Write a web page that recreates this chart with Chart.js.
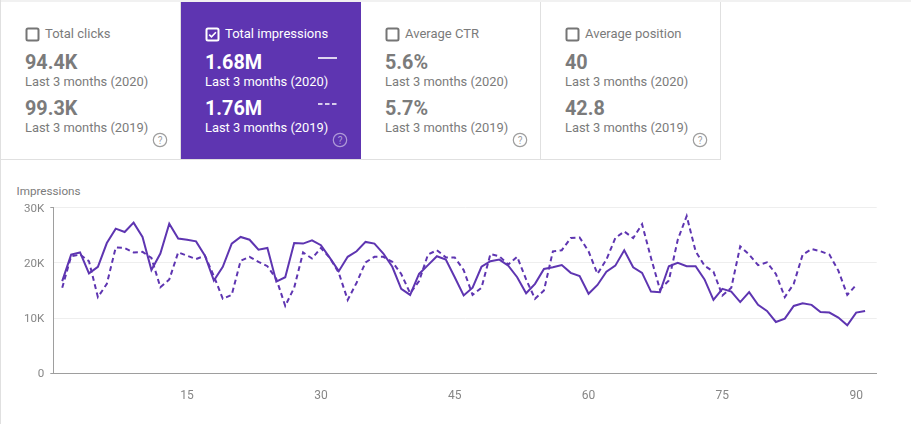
<!DOCTYPE html>
<html>
<head>
<meta charset="utf-8">
<title>Impressions</title>
<script src="https://cdn.jsdelivr.net/npm/chart.js@4"></script>
<style>
    html, body { margin: 0; padding: 0; background: #fff; }
    body { width: 911px; height: 424px; position: relative; overflow: hidden; font-family: Roboto, sans-serif; color: #7b7b7b; }
    #topline { position: absolute; left: 0; top: 0; width: 911px; height: 2px; background: #f1f1f1; }
    #leftline { position: absolute; left: 0; top: 0; width: 1px; height: 424px; background: #e0e0e0; }
    #bottomline { position: absolute; left: 1px; top: 159px; width: 720px; height: 1px; background: #e0e0e0; }
    .card { position: absolute; top: 2px; width: 180px; height: 158px; box-sizing: border-box; border-right: 1px solid #e0e0e0; }
    .card.active { background: #5e35b1; color: #fff; border-right: none; }
    .card div, .card svg { position: absolute; white-space: nowrap; }
    .check { left: 24px; top: 25px; }
    .title { left: 44px; top: 24px; font-size: 13px; line-height: 15px; }
    .big { left: 24px; font-size: 19.8px; line-height: 24px; font-weight: 700; }
    .sub { left: 24px; font-size: 12.9px; line-height: 15px; }
    .help { left: 149.5px; top: 128.5px; }
    #axisTitle { position: absolute; left: 16.5px; top: 184.5px; font-size: 11.7px; line-height: 13px; color: #7b7b7b; }
    #chart { position: absolute; left: 0; top: 170px; }
</style>
</head>
<body>
<div id="topline"></div>
<div id="leftline"></div>
<div id="cards"></div>
<div id="bottomline"></div>
<div id="axisTitle">Impressions</div>
<canvas id="chart" width="911" height="254" style="width:911px;height:254px"></canvas>

<script>
const cardTitles = ['Total clicks', 'Total impressions', 'Average CTR', 'Average position'];
const values2020 = ['94.4K', '1.68M', '5.6%', '40'];
const values2019 = ['99.3K', '1.76M', '5.7%', '42.8'];
const label2020 = 'Last 3 months (2020)';
const label2019 = 'Last 3 months (2019)';

const yTicks = [0, 10000, 20000, 30000];
const xTicks = [15, 30, 45, 60, 75, 90];

// thousands of impressions per day
const impressions2020 = [
    16.7, 21.5, 21.9, 18.1, 19.3, 23.6, 26.2, 25.6, 27.3, 24.7,
    18.7, 21.7, 27.1, 24.4, 24.2, 23.9, 21.3, 16.8, 19.3, 23.5,
    24.7, 24.2, 22.4, 22.7, 16.6, 17.4, 23.6, 23.5, 24.1, 23.2,
    20.9, 18.5, 21.1, 22.1, 23.8, 23.5, 21.7, 19.3, 15.3, 14.2,
    18.0, 19.6, 21.2, 20.6, 17.4, 14.1, 15.5, 19.3, 20.3, 20.6,
    19.5, 17.4, 14.5, 16.2, 18.9, 19.2, 19.6, 18.2, 17.6, 14.4,
    16.0, 18.4, 19.5, 22.3, 19.2, 18.2, 14.8, 14.7, 19.4, 20.0,
    19.4, 19.4, 17.0, 13.3, 15.3, 14.8, 12.9, 14.7, 12.4, 11.3,
    9.3, 9.9, 12.2, 12.7, 12.4, 11.1, 11.0, 10.1, 8.7, 11.0,
    11.3
];
const impressions2019 = [
    15.5, 21.2, 21.5, 20.3, 13.8, 16.2, 22.8, 22.7, 21.9, 22.0,
    20.9, 15.6, 17.0, 21.9, 21.3, 20.7, 21.3, 17.6, 13.5, 14.2,
    20.4, 21.1, 20.2, 19.4, 17.1, 12.2, 15.5, 21.9, 20.8, 22.7,
    20.9, 18.2, 13.3, 16.4, 20.1, 21.1, 21.1, 20.2, 18.0, 14.5,
    16.7, 21.5, 22.3, 21.0, 21.0, 18.7, 14.2, 15.5, 21.6, 21.2,
    19.7, 21.1, 17.0, 13.5, 15.0, 22.1, 22.3, 24.5, 24.6, 22.1,
    18.0, 20.6, 24.5, 25.7, 24.5, 27.0, 20.9, 15.2, 16.8, 24.2,
    28.5, 22.1, 19.5, 18.4, 14.1, 15.5, 23.0, 21.5, 19.6, 20.1,
    18.0, 13.8, 16.2, 21.5, 22.5, 22.1, 21.5, 18.6, 14.2, 16.0
];

const PURPLE = '#5e35b1';

function toPoints(values) {
    return values.map((v, i) => ({ x: i + 1, y: v * 1000 }));
}

function checkbox(checked) {
    if (checked) {
        return `<svg class="check" width="16" height="16" viewBox="0 0 16 16">
            <rect x="1.5" y="1.5" width="12" height="12" rx="1.5" fill="none" stroke="#fff" stroke-width="2"/>
            <path d="M4.2 7.6l2.3 2.3 4.4-4.6" fill="none" stroke="#fff" stroke-width="1.6"/></svg>`;
    }
    return `<svg class="check" width="16" height="16" viewBox="0 0 16 16">
        <rect x="1.5" y="1.5" width="12" height="12" rx="1.5" fill="none" stroke="#757575" stroke-width="2"/></svg>`;
}

function helpIcon(active) {
    const c = active ? 'rgba(255,255,255,0.5)' : '#9e9e9e';
    return `<svg class="help" width="18" height="18" viewBox="0 0 18 18">
        <circle cx="9" cy="9" r="6.7" fill="none" stroke="${c}" stroke-width="1.2"/>
        <text x="9" y="12.6" text-anchor="middle" font-family="Roboto" font-size="10" fill="${c}">?</text></svg>`;
}

function legendLine(top, dashed) {
    const dash = dashed ? 'stroke-dasharray="4.5 2.5"' : '';
    return `<svg style="left:137px;top:${top}px" width="20" height="4" viewBox="0 0 20 4">
        <line x1="0" y1="2" x2="19" y2="2" stroke="#fff" stroke-width="1.6" ${dash}/></svg>`;
}

function loadCards() {
    let html = '';
    cardTitles.forEach((title, i) => {
        const active = i === 1;
        html += `<div class="card${active ? ' active' : ''}" style="left:${1 + i * 180}px">
            ${checkbox(active)}
            <div class="title">${title}</div>
            <div class="big" style="top:49px">${values2020[i]}</div>
            <div class="sub" style="top:72px">${label2020}</div>
            <div class="big" style="top:95px">${values2019[i]}</div>
            <div class="sub" style="top:118px">${label2019}</div>
            ${helpIcon(active)}
            ${active ? legendLine(54, false) + legendLine(100, true) : ''}
        </div>`;
    });
    document.getElementById('cards').innerHTML = html;
}

function createChart() {
    const ctx = document.getElementById('chart').getContext('2d');
    new Chart(ctx, {
        type: 'line',
        data: {
            datasets: [{
                label: label2020,
                data: toPoints(impressions2020),
                borderColor: PURPLE,
                borderWidth: 2,
                pointRadius: 0,
                tension: 0
            }, {
                label: label2019,
                data: toPoints(impressions2019),
                borderColor: PURPLE,
                borderWidth: 2,
                borderDash: [5, 3.5],
                pointRadius: 0,
                tension: 0
            }]
        },
        options: {
            responsive: false,
            animation: false,
            layout: { padding: { top: 37.7, right: 34.3, left: 0, bottom: 0 } },
            plugins: { legend: { display: false }, tooltip: { enabled: false } },
            scales: {
                x: {
                    type: 'linear',
                    min: 0,
                    max: 92.3,
                    afterBuildTicks: axis => { axis.ticks = xTicks.map(v => ({ value: v })); },
                    afterFit: axis => { axis.height = 50.7; },
                    grid: { display: false, drawTicks: false },
                    border: { color: '#9e9e9e', width: 1 },
                    ticks: {
                        maxRotation: 0,
                        autoSkip: false,
                        padding: 15,
                        color: '#868686',
                        font: { family: 'Roboto', size: 12 }
                    }
                },
                y: {
                    min: 0,
                    max: 30000,
                    afterBuildTicks: axis => { axis.ticks = yTicks.map(v => ({ value: v })); },
                    afterFit: axis => { axis.width = 53.3; },
                    grid: {
                        color: '#eeeeee',
                        lineWidth: 1,
                        tickLength: 3,
                        tickColor: c => (c.tick.value === 0 || c.tick.value === 30000) ? '#9e9e9e' : 'transparent'
                    },
                    border: { color: '#9e9e9e', width: 1 },
                    ticks: {
                        padding: 6,
                        labelOffset: 1,
                        color: '#868686',
                        font: { family: 'Roboto', size: 11.6 },
                        callback: v => v === 0 ? '0' : (v / 1000) + 'K'
                    }
                }
            }
        }
    });
}

document.addEventListener('DOMContentLoaded', function () {
    loadCards();
    createChart();
});
</script>
</body>
</html>
